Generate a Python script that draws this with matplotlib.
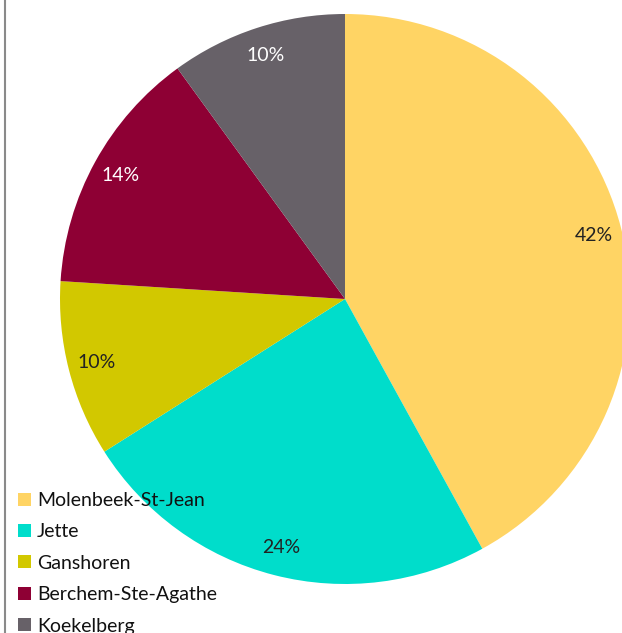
import matplotlib
matplotlib.use("Agg")
import matplotlib.pyplot as plt
from matplotlib.lines import Line2D

categories = ["Molenbeek-St-Jean", "Jette", "Ganshoren", "Berchem-Ste-Agathe", "Koekelberg"]
values = [42, 24, 10, 14, 10]
colors = ["#FFD464", "#00DDCB", "#D2C800", "#8E0034", "#676168"]
label_colors = ["#222222", "#222222", "#222222", "white", "white"]

plt.rcParams['font.family'] = ['Lato', 'DejaVu Sans']

W, H = 622, 633
fig = plt.figure(figsize=(W / 100, H / 100), dpi=100)
ax = fig.add_axes([0, 0, 1, 1])
ax.set_xlim(0, W)
ax.set_ylim(0, H)
ax.set_aspect('equal')
ax.axis('off')

wedges, texts, autotexts = ax.pie(
    values, colors=colors, startangle=90, counterclock=False,
    center=(345, H - 299), radius=285,
    autopct=lambda p: f"{p:.0f}%", pctdistance=0.9,
    textprops=dict(fontsize=14),
)
for t, c in zip(autotexts, label_colors):
    t.set_color(c)

ax.set_xlim(0, W)
ax.set_ylim(0, H)

# left border line
fig.add_artist(Line2D([4.5 / W, 4.5 / W], [0, 1], transform=fig.transFigure,
                      color="#8a8a8a", lw=1.5))

leg = ax.legend(wedges, categories, loc='upper left',
                bbox_to_anchor=(18 / W, 1 - 492 / H), bbox_transform=fig.transFigure,
                frameon=False, fontsize=14, handlelength=0.65, handleheight=0.65,
                handletextpad=0.32, labelspacing=0.74, borderaxespad=0, borderpad=0)
for t in leg.get_texts():
    t.set_color("#111111")

fig.savefig("out.png", dpi=100)
